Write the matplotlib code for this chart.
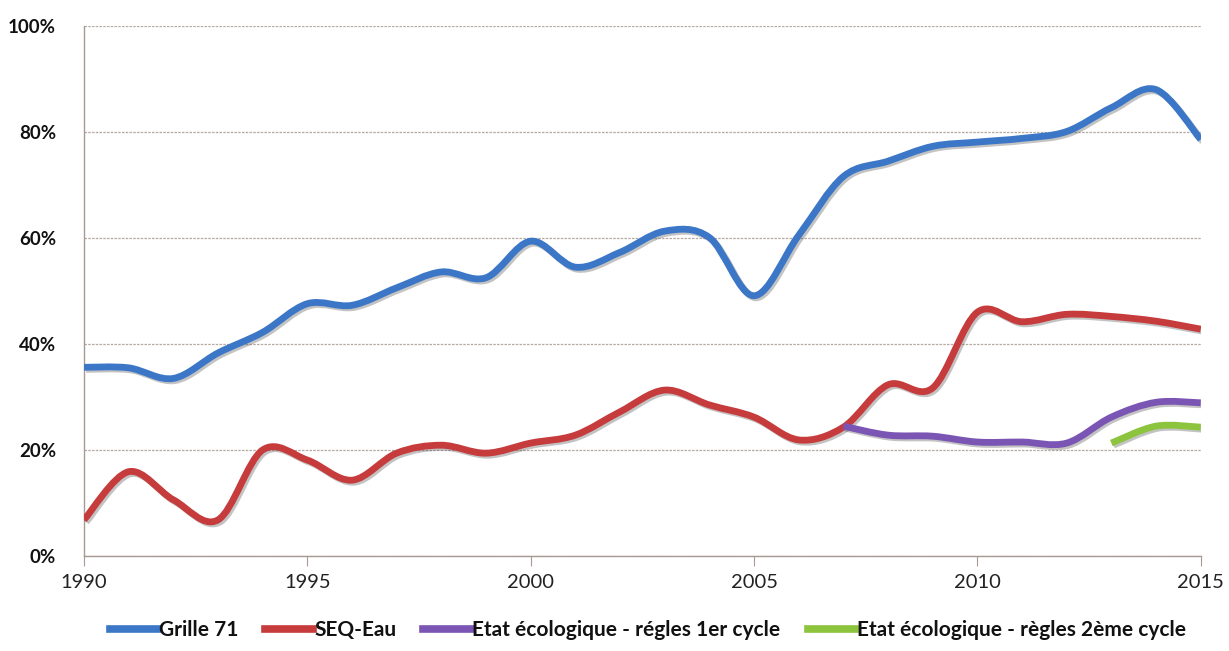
import numpy as np
import matplotlib
matplotlib.use('Agg')
import matplotlib.pyplot as plt
from matplotlib.path import Path
from matplotlib.patches import PathPatch
from matplotlib.lines import Line2D
import matplotlib.patheffects as pe

plt.rcParams['font.family'] = ['Lato', 'DejaVu Sans']

# Data (share of stations, %)
years = list(range(1990, 2016))
grille71 = [35.6, 35.5, 33.5, 38.3, 42.2, 47.6, 47.3, 50.6, 53.6, 52.5,
            59.4, 54.5, 57.3, 61.3, 60.1, 49.1, 60.5, 71.6, 74.5, 77.3,
            78.1, 78.8, 80.1, 84.6, 88.0, 78.6]
seq_eau = [6.8, 15.9, 10.6, 6.8, 20.0, 18.1, 14.3, 19.4, 20.9, 19.4,
           21.3, 22.8, 27.2, 31.3, 28.5, 26.2, 21.9, 24.3, 32.3, 31.7,
           46.0, 44.2, 45.6, 45.2, 44.3, 42.8]
years_1er = list(range(2007, 2016))
etat_1er = [24.5, 22.8, 22.6, 21.5, 21.5, 21.3, 26.2, 29.0, 28.9]
years_2eme = list(range(2013, 2016))
etat_2eme = [21.3, 24.5, 24.3]

labels = ['Grille 71', 'SEQ-Eau', 'Etat écologique - régles 1er cycle',
          'Etat écologique - règles 2ème cycle']
colors = ['#3B77C6', '#C63B3B', '#7B55B3', '#8CC43E']


def smooth_path(x, y):
    # Excel-like smoothed line as cubic Bezier segments
    pts = np.column_stack([x, y]).astype(float)
    n = len(pts)
    verts = [pts[0]]
    codes = [Path.MOVETO]
    for i in range(n - 1):
        p0 = pts[max(i - 1, 0)]
        p1 = pts[i]
        p2 = pts[i + 1]
        p3 = pts[min(i + 2, n - 1)]
        c1 = p1 + (p2 - p0) / 6.0
        c2 = p2 - (p3 - p1) / 6.0
        verts += [c1, c2, p2]
        codes += [Path.CURVE4] * 3
    return Path(verts, codes)


fig = plt.figure(figsize=(12.29, 6.51), dpi=100)
ax = fig.add_axes([0.0683, 0.146, 0.9087, 0.814])

series = [(years, grille71), (years, seq_eau), (years_1er, etat_1er), (years_2eme, etat_2eme)]
shadow = [pe.SimpleLineShadow(offset=(1.5, -1.5), shadow_color='#555555', alpha=0.35), pe.Normal()]
for (xs, ys), col in zip(series, colors):
    patch = PathPatch(smooth_path(xs, ys), facecolor='none', edgecolor=col,
                      linewidth=4.9, capstyle='butt', joinstyle='round', zorder=3)
    patch.set_path_effects(shadow)
    ax.add_patch(patch)

ax.set_xlim(1990, 2015)
ax.set_ylim(0, 100)
ax.set_xticks(range(1990, 2016, 5))
ax.set_yticks(range(0, 101, 20))
ax.set_yticklabels([f'{v}%' for v in range(0, 101, 20)])

for s in ['top', 'right']:
    ax.spines[s].set_visible(False)
for s in ['left', 'bottom']:
    ax.spines[s].set_color('#A89A92')
    ax.spines[s].set_linewidth(1.0)

ax.grid(axis='y', color='#B5A9A2', linewidth=0.9, linestyle=(0, (2, 1)))
ax.set_axisbelow(True)

ax.tick_params(axis='x', direction='out', length=7, color='#A89A92',
               labelsize=14.5, pad=6, labelcolor='#222222')
ax.tick_params(axis='y', length=0, labelsize=13.5, pad=20, labelcolor='#111111')
for t in ax.get_yticklabels():
    t.set_fontweight('bold')

handles = [Line2D([0], [0], color=c, linewidth=5.5) for c in colors]
leg = fig.legend(handles, labels, loc='center', bbox_to_anchor=(0.527, 1 - 630 / 651),
                 ncol=4, frameon=False, handlelength=2.3, handletextpad=0.05,
                 columnspacing=1.3, prop={'size': 15, 'weight': 'bold'})
for t in leg.get_texts():
    t.set_color('#111111')

fig.savefig('out.png', dpi=100)
